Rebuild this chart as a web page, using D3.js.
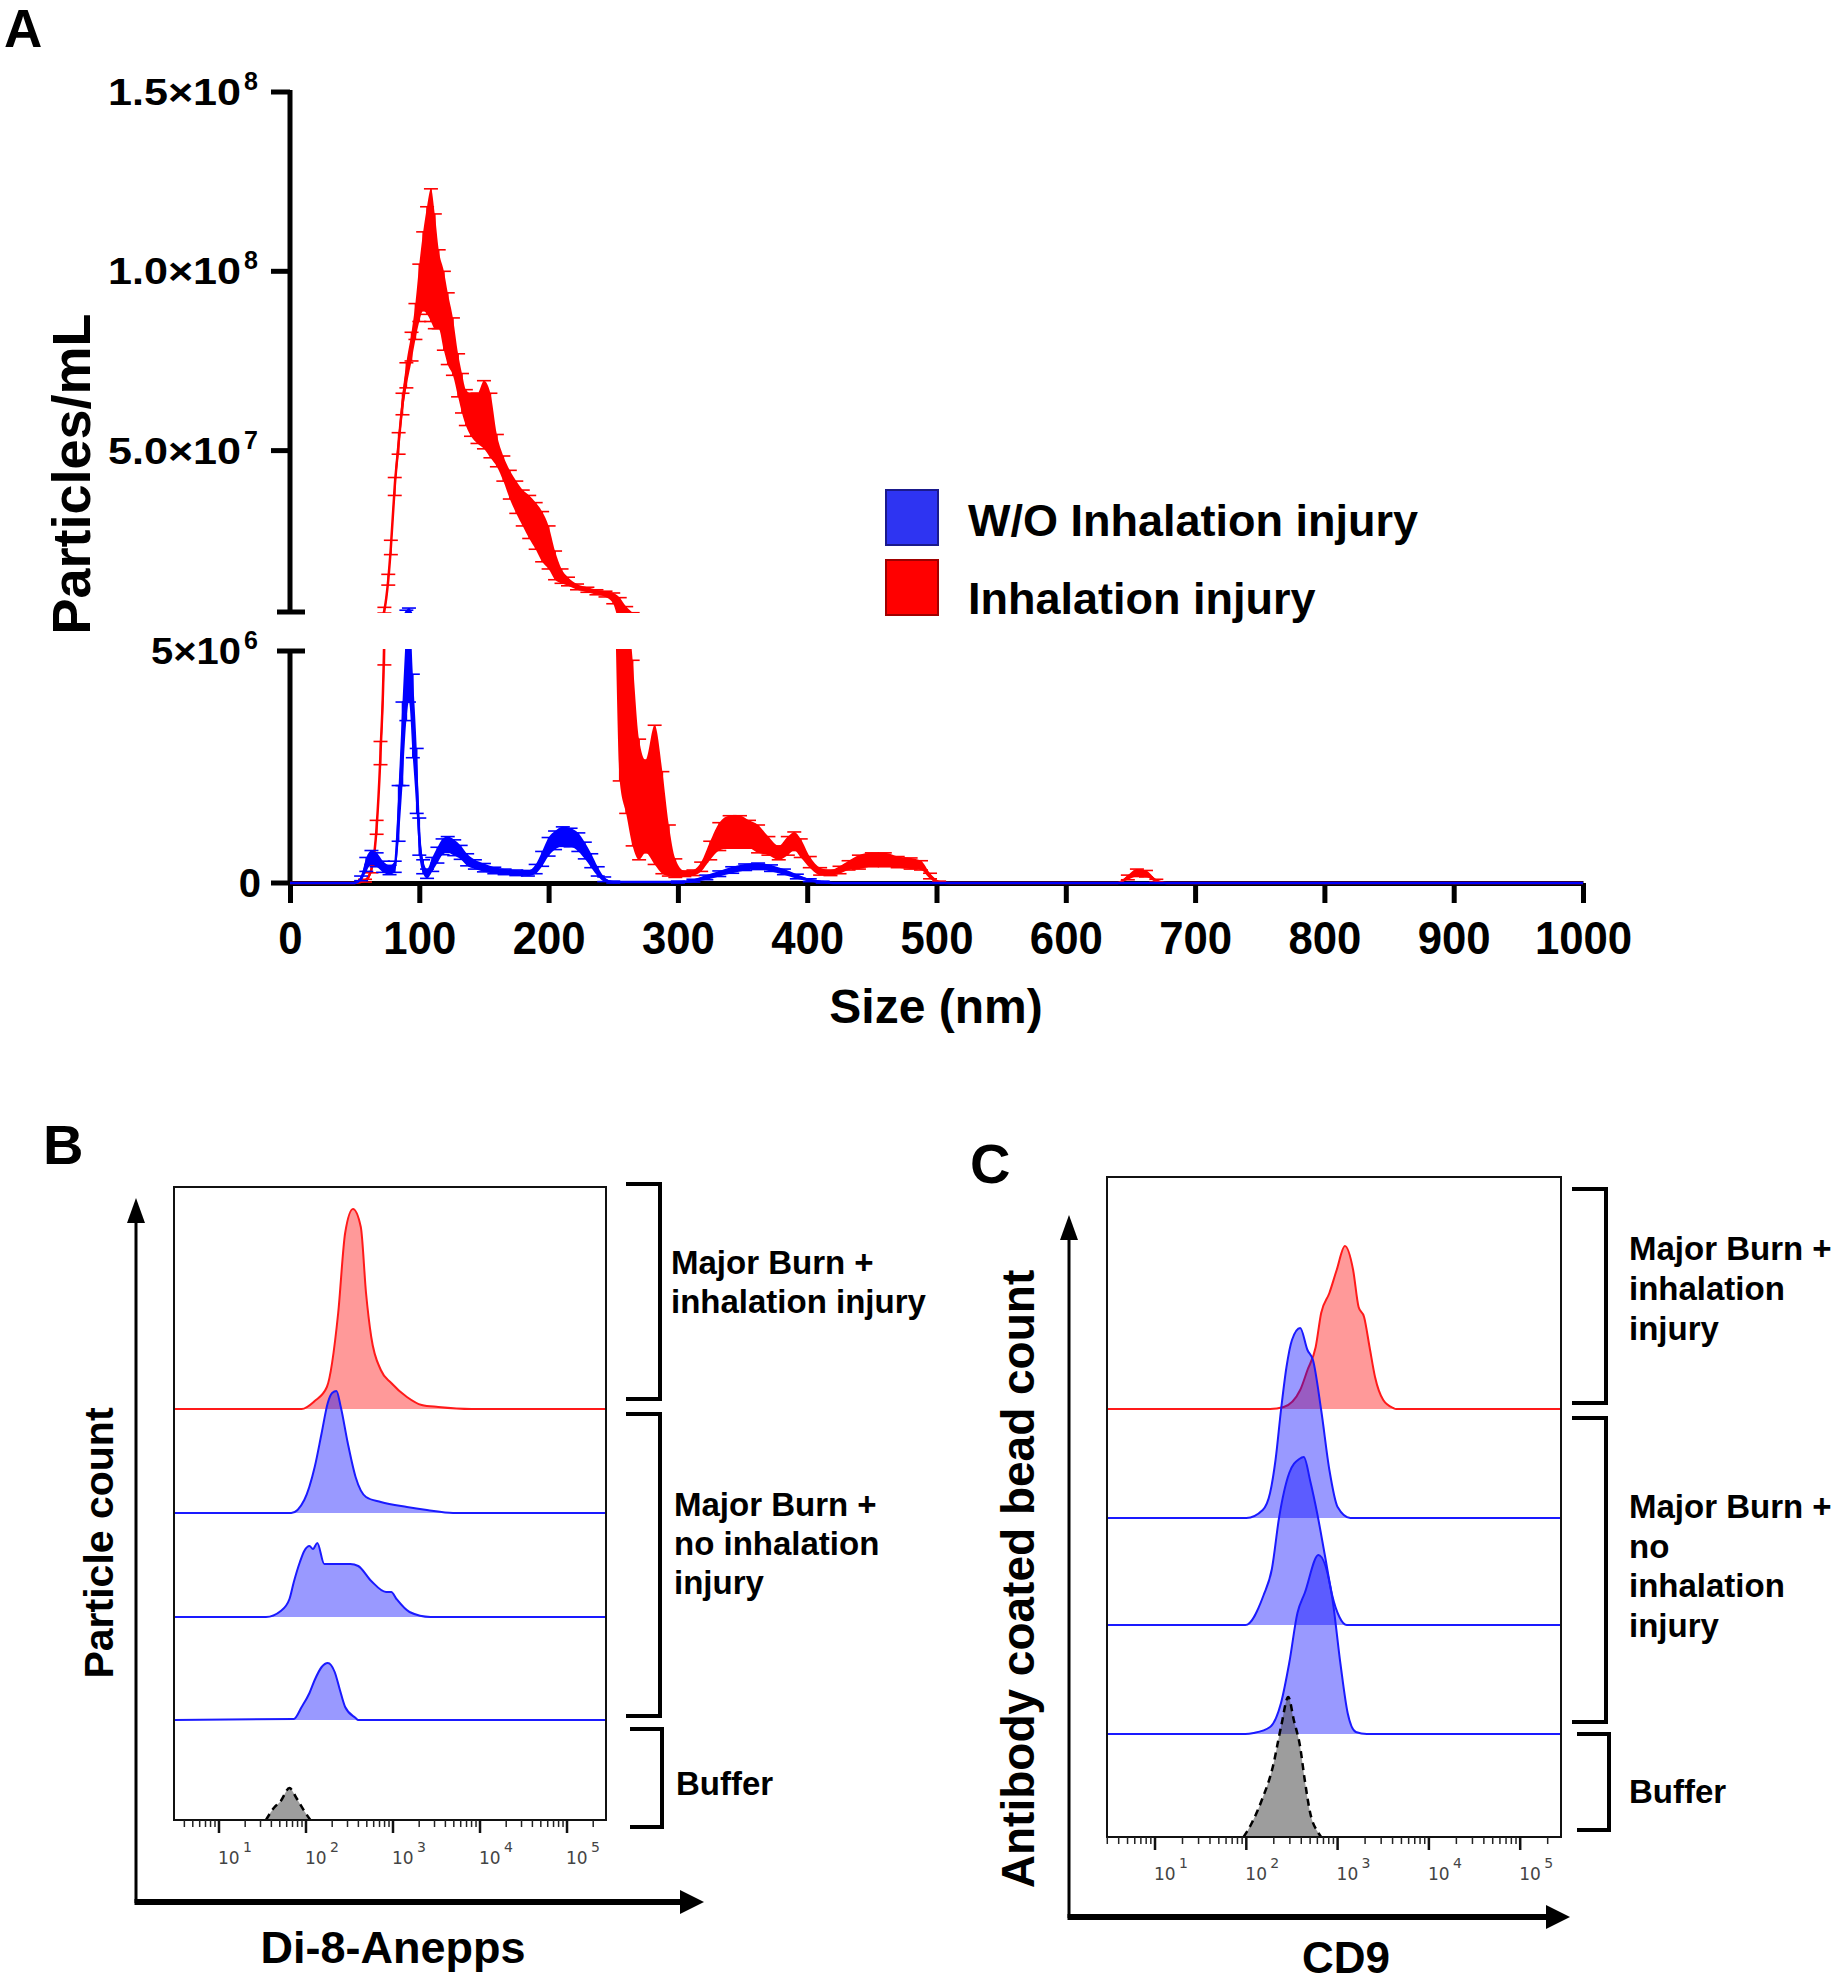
<!DOCTYPE html>
<html>
<head>
<meta charset="utf-8">
<script src="https://cdn.jsdelivr.net/npm/d3@7"></script>
<style>
  body { margin: 0; background: #fff; }
  svg text { font-family: "Liberation Sans", Arial, sans-serif; }
</style>
</head>
<body>
<svg id="fig" width="1835" height="1981"></svg>
<script>
// ---------- Panel A: NTA size distribution (values in 10^6 particles/mL) ----------
const sizeInh = [0, 50, 58, 63, 67, 70, 73, 76, 78, 81,
  84, 87, 90, 94, 97, 100, 103, 106, 109, 112,
  115, 119, 122, 126, 130, 133, 136, 140, 145, 150,
  155, 160, 165, 170, 175, 180, 185, 190, 195, 200,
  205, 210, 215, 222, 230, 237, 244, 250, 255, 260,
  265, 270, 275, 282, 288, 293, 298, 305, 312, 318,
  325, 332, 340, 348, 355, 362, 370, 378, 385, 390,
  395, 402, 410, 418, 425, 432, 440, 450, 460, 470,
  480, 488, 495, 502, 510, 640, 648, 655, 662, 670,
  678, 1000];
const meanInh = [0, 0, 0.05, 0.3, 1.2, 2.8, 5.5, 14, 23, 40,
  52, 63, 71, 79, 86, 94, 100, 103, 104.5, 100,
  95, 89, 84, 79, 71, 66, 62, 60, 59, 60,
  57, 50, 45, 40.5, 37, 34, 31.5, 29, 26, 23,
  18, 15, 13.5, 12, 11.2, 10.5, 10, 8.8, 5.6, 4.0,
  2.8, 1.8, 1.65, 1.9, 1.3, 0.7, 0.32, 0.2, 0.22, 0.35,
  0.7, 1.0, 1.1, 1.1, 1.05, 0.95, 0.8, 0.65, 0.8, 0.9,
  0.75, 0.45, 0.25, 0.22, 0.28, 0.38, 0.45, 0.5, 0.5, 0.45,
  0.42, 0.38, 0.15, 0.02, 0, 0, 0.12, 0.22, 0.2, 0.05,
  0, 0];
const semInh = [0, 0, 0.03, 0.08, 0.15, 0.25, 0.8, 1.5, 2, 2.5,
  3, 3, 3.5, 4, 5, 8, 11, 15, 18.5, 16,
  11, 11, 10, 8, 6, 5.5, 5, 6, 7, 9.5,
  9, 4.5, 3.5, 4, 4.5, 5, 6, 6.5, 7, 6,
  4, 2, 1.2, 0.8, 0.7, 0.7, 0.8, 1.5, 3.4, 2.5,
  2.0, 1.3, 1.0, 1.5, 1.1, 0.55, 0.2, 0.06, 0.06, 0.1,
  0.2, 0.3, 0.35, 0.35, 0.3, 0.3, 0.2, 0.15, 0.2, 0.2,
  0.2, 0.12, 0.08, 0.06, 0.08, 0.1, 0.15, 0.15, 0.15, 0.12,
  0.12, 0.1, 0.06, 0.02, 0, 0, 0.05, 0.08, 0.07, 0.03,
  0, 0];

const sizeWo = [0, 50, 55, 59, 63, 67, 72, 77, 81, 84,
  87, 90, 92, 95, 98, 100, 103, 106, 110, 114,
  118, 122, 127, 132, 137, 143, 150, 158, 166, 175,
  184, 190, 195, 200, 205, 211, 217, 223, 228, 233,
  238, 243, 250, 300, 312, 322, 332, 342, 352, 362,
  372, 382, 392, 402, 412, 420, 1000];
const meanWo = [0, 0, 0.1, 0.4, 0.55, 0.5, 0.35, 0.28, 0.35, 1.5,
  3.0, 4.5, 5.0, 3.6, 2.2, 1.0, 0.35, 0.2, 0.4, 0.6,
  0.78, 0.83, 0.76, 0.66, 0.5, 0.4, 0.33, 0.27, 0.24, 0.22,
  0.21, 0.3, 0.52, 0.78, 0.92, 1.0, 0.98, 0.88, 0.7, 0.48,
  0.25, 0.08, 0.02, 0.02, 0.05, 0.12, 0.2, 0.28, 0.34, 0.36,
  0.32, 0.24, 0.14, 0.06, 0.02, 0, 0];
const semWo = [0, 0, 0.05, 0.15, 0.15, 0.15, 0.12, 0.1, 0.12, 0.6,
  0.9, 1.0, 1.1, 0.9, 0.7, 0.4, 0.15, 0.1, 0.15, 0.17,
  0.17, 0.17, 0.17, 0.15, 0.13, 0.1, 0.09, 0.07, 0.06, 0.06,
  0.06, 0.1, 0.16, 0.2, 0.2, 0.21, 0.2, 0.2, 0.18, 0.15,
  0.1, 0.05, 0.02, 0.02, 0.03, 0.05, 0.06, 0.07, 0.07, 0.07,
  0.07, 0.06, 0.05, 0.03, 0.02, 0, 0];

const xTicksA = [0, 100, 200, 300, 400, 500, 600, 700, 800, 900, 1000];
const yTicksHigh = [5e7, 1e8, 1.5e8];
const yLabelsHigh = [['5.0', '7'], ['1.0', '8'], ['1.5', '8']];
const legendLabels = ['W/O Inhalation injury', 'Inhalation injury'];

// ---------- Panel B: Di-8-Anepps histograms (log10 intensity, count) ----------
const bInhLog = [1.95, 2.10, 2.24, 2.37, 2.45, 2.54, 2.63, 2.69, 2.75, 2.86, 2.98, 3.16, 3.33, 3.52, 3.90];
const bInhCount = [0, 4, 11, 48, 88, 100, 91, 58, 36, 19.5, 13, 6, 2, 1, 0];
const bWo1Log = [1.83, 1.98, 2.10, 2.18, 2.25, 2.30, 2.35, 2.40, 2.48, 2.57, 2.69, 2.86, 3.16, 3.39, 3.69];
const bWo1Count = [0, 6.5, 23, 40, 55, 60, 61, 53, 35, 18, 8, 5.5, 3, 1.5, 0];
const bWo2Log = [1.54, 1.71, 1.81, 1.86, 1.93, 1.98, 2.04, 2.08, 2.13, 2.21, 2.33, 2.51, 2.60, 2.75, 2.92, 2.98, 3.04, 3.19, 3.43];
const bWo2Count = [0, 3, 9, 17.5, 27.5, 33, 35.5, 34, 37, 26.5, 26.5, 26.5, 25.5, 18, 12.5, 12.5, 9, 2.5, 0];
const bWo3Log = [1.86, 1.95, 2.04, 2.10, 2.18, 2.25, 2.33, 2.39, 2.45, 2.57, 2.60];
const bWo3Count = [0.5, 6.5, 13.5, 20, 26.5, 28.5, 24, 15, 6.5, 1, 0];
const bBufLog = [1.54, 1.63, 1.71, 1.81, 1.89, 1.98, 2.05];
const bBufCount = [0, 6, 9.5, 16, 11, 4.5, 0];

// ---------- Panel C: CD9 bead histograms ----------
const cInhLog = [2.26, 2.41, 2.59, 2.67, 2.76, 2.82, 2.91, 2.99, 3.08, 3.17, 3.23, 3.29, 3.35, 3.41, 3.50, 3.61, 3.64];
const cInhCount = [0, 1, 9.5, 19.5, 31, 48, 58, 69.5, 81.5, 69.5, 51, 46, 31, 16, 4.5, 0.5, 0];
const cWo1Log = [2.00, 2.18, 2.26, 2.32, 2.38, 2.44, 2.50, 2.59, 2.67, 2.73, 2.82, 2.91, 3.00, 3.14];
const cWo1Count = [0, 4, 12.5, 29, 54, 75.5, 89, 95, 84, 79, 54, 24, 5.5, 0];
const cWo2Log = [1.99, 2.19, 2.28, 2.36, 2.47, 2.58, 2.63, 2.70, 2.78, 2.86, 2.94, 3.02, 3.10];
const cWo2Count = [0, 15, 28, 54, 76, 83, 84, 72, 55, 35, 15, 4, 0];
const cWo3Log = [1.99, 2.08, 2.26, 2.38, 2.47, 2.56, 2.64, 2.79, 2.94, 3.03, 3.11, 3.20, 3.32];
const cWo3Count = [0, 0.5, 3.5, 15.5, 35.5, 60.5, 70.5, 89.5, 68.5, 35.5, 10.5, 1, 0];
const cBufLog = [1.97, 2.06, 2.17, 2.29, 2.38, 2.46, 2.52, 2.59, 2.64, 2.70, 2.79, 2.82];
const cBufCount = [0, 7, 18.5, 35, 55, 70, 58.5, 45, 28.5, 12, 2, 0];

const decades = [1, 2, 3, 4, 5];

const RED = '#ff0000';
const BLUE = '#0000ff';
const MILLION = 1e6;

const svg = d3.select('#fig');
const defs = svg.append('defs');

// ================= Panel A =================
const A = svg.append('g');
const x = d3.scaleLinear().domain([0, 1000]).range([290, 1583]);
const yLow = d3.scaleLinear().domain([0, 5e6]).range([883, 651]);
const yHigh = d3.scaleLinear().domain([5e6, 1.5e8]).range([612, 92]);

defs.append('clipPath').attr('id', 'clipLow')
  .append('rect').attr('x', 285).attr('y', 649).attr('width', 1320).attr('height', 238);
defs.append('clipPath').attr('id', 'clipHigh')
  .append('rect').attr('x', 285).attr('y', 60).attr('width', 1320).attr('height', 553);

// x axis
const xAxis = A.append('g')
  .attr('transform', `translate(0,${yLow(0)})`)
  .call(d3.axisBottom(x).tickValues(xTicksA).tickFormat(d3.format('d')).tickSize(20).tickSizeOuter(0));
xAxis.select('.domain').attr('stroke', '#000').attr('stroke-width', 5);
xAxis.selectAll('.tick line').attr('stroke', '#000').attr('stroke-width', 5);
xAxis.selectAll('.tick text')
  .attr('y', 71).attr('dy', null)
  .attr('transform', 'scale(0.93,1)')
  .style('font-size', '47px').style('font-weight', 'bold').attr('fill', '#000');

// y axis segments
A.append('line').attr('x1', 290).attr('x2', 290).attr('y1', yLow(5e6)).attr('y2', yLow(0) + 2)
  .attr('stroke', '#000').attr('stroke-width', 5);
A.append('line').attr('x1', 290).attr('x2', 290).attr('y1', yHigh(1.5e8) - 2).attr('y2', yHigh(5e6))
  .attr('stroke', '#000').attr('stroke-width', 5);
// left ticks
yTicksHigh.forEach(v => {
  A.append('line').attr('x1', 271).attr('x2', 290).attr('y1', yHigh(v)).attr('y2', yHigh(v))
    .attr('stroke', '#000').attr('stroke-width', 5);
});
A.append('line').attr('x1', 271).attr('x2', 290).attr('y1', yLow(0)).attr('y2', yLow(0))
  .attr('stroke', '#000').attr('stroke-width', 5);
// break ticks (both sides)
[yHigh(5e6), yLow(5e6)].forEach(yy => {
  A.append('line').attr('x1', 277).attr('x2', 305).attr('y1', yy).attr('y2', yy)
    .attr('stroke', '#000').attr('stroke-width', 5);
});

// y tick labels (mantissa x 10^exp)
function sciLabel(yy, mant, exp, len) {
  A.append('text').attr('x', 241).attr('y', yy + 13)
    .attr('text-anchor', 'end')
    .attr('textLength', len).attr('lengthAdjust', 'spacingAndGlyphs')
    .style('font-size', '36px').style('font-weight', 'bold')
    .text(mant + '×10');
  A.append('text').attr('x', 244).attr('y', yy - 2)
    .style('font-size', '25px').style('font-weight', 'bold')
    .text(exp);
}
yTicksHigh.forEach((v, i) => sciLabel(yHigh(v), yLabelsHigh[i][0], yLabelsHigh[i][1], 133));
sciLabel(yLow(5e6), '5', '6', 90);
A.append('text').attr('x', 261).attr('y', yLow(0) + 14).attr('text-anchor', 'end')
  .style('font-size', '40px').style('font-weight', 'bold').text('0');

// series with error bars, drawn in both axis segments
function drawSeries(sizes, means, sems, color) {
  const pts = sizes.map((s, i) => ({ s, m: means[i] * MILLION, e: sems[i] * MILLION }));
  [[yLow, 'clipLow'], [yHigh, 'clipHigh']].forEach(([y, clip]) => {
    const g = A.append('g').attr('clip-path', `url(#${clip})`);
    g.append('path').datum(pts)
      .attr('d', d3.area()
        .x(d => x(d.s))
        .y0(d => y(Math.max(0, d.m - d.e)))
        .y1(d => y(d.m + d.e))
        .curve(d3.curveMonotoneX))
      .attr('fill', color);
    const bars = g.selectAll(null).data(pts.filter(d => d.e > 0)).enter().append('g')
      .attr('stroke', color).attr('stroke-width', 1.6);
    bars.append('line')
      .attr('x1', d => x(d.s)).attr('x2', d => x(d.s))
      .attr('y1', d => y(Math.max(0, d.m - d.e))).attr('y2', d => y(d.m + d.e));
    bars.append('line')
      .attr('x1', d => x(d.s) - 7).attr('x2', d => x(d.s) + 7)
      .attr('y1', d => y(d.m + d.e)).attr('y2', d => y(d.m + d.e));
    bars.append('line')
      .attr('x1', d => x(d.s) - 7).attr('x2', d => x(d.s) + 7)
      .attr('y1', d => y(Math.max(0, d.m - d.e))).attr('y2', d => y(Math.max(0, d.m - d.e)));
    g.append('path').datum(pts)
      .attr('d', d3.line().x(d => x(d.s)).y(d => y(d.m)).curve(d3.curveMonotoneX))
      .attr('fill', 'none').attr('stroke', color).attr('stroke-width', 2.5);
  });
}
drawSeries(sizeInh, meanInh, semInh, RED);
drawSeries(sizeWo, meanWo, semWo, BLUE);

// axis titles
A.append('text').attr('transform', 'translate(90,474) rotate(-90)')
  .attr('text-anchor', 'middle')
  .style('font-size', '54px').style('font-weight', 'bold').text('Particles/mL');
A.append('text').attr('x', 936).attr('y', 1023).attr('text-anchor', 'middle')
  .style('font-size', '48px').style('font-weight', 'bold').text('Size (nm)');

// legend
const legend = A.append('g');
[[BLUE, '#1a1a8c', '#2e34f2'], [RED, '#a00000', '#ff0000']].forEach((c, i) => {
  legend.append('rect').attr('x', 886).attr('y', 490 + i * 70).attr('width', 52).attr('height', 55)
    .attr('fill', c[2]).attr('stroke', c[1]).attr('stroke-width', 2);
  legend.append('text').attr('x', 968).attr('y', 536 + i * 78)
    .style('font-size', '45px').style('font-weight', 'bold').text(legendLabels[i]);
});

// panel letters
svg.append('text').attr('x', 4).attr('y', 47).style('font-size', '53px').style('font-weight', 'bold').text('A');
svg.append('text').attr('x', 43).attr('y', 1164).style('font-size', '56px').style('font-weight', 'bold').text('B');
svg.append('text').attr('x', 970).attr('y', 1183).style('font-size', '56px').style('font-weight', 'bold').text('C');

// ================= Panels B and C =================
function drawFlowPanel(cfg) {
  const g = svg.append('g');
  const dom = [10 ** cfg.logMin, 10 ** cfg.logMax];
  const xs = d3.scaleLog().domain(dom).range([cfg.x0, cfg.x1]);
  const h = d3.scaleLinear().domain([0, 100]).range([0, 200]);

  cfg.rows.forEach(row => {
    let pts = row.log.map((l, i) => ({ v: 10 ** l, c: row.count[i] }));
    if (row.baseline) pts = [{ v: dom[0], c: 0 }, ...pts, { v: dom[1], c: 0 }];
    g.append('path').datum(pts)
      .attr('d', d3.area().x(d => xs(d.v)).y0(row.base).y1(d => row.base - h(d.c)).curve(d3.curveMonotoneX))
      .attr('fill', row.fill).attr('fill-opacity', row.opacity);
    g.append('path').datum(pts)
      .attr('d', d3.line().x(d => xs(d.v)).y(d => row.base - h(d.c)).curve(d3.curveMonotoneX))
      .attr('fill', 'none').attr('stroke', row.stroke).attr('stroke-width', row.width)
      .attr('stroke-dasharray', row.dash || null);
  });

  g.append('rect').attr('x', cfg.x0).attr('y', cfg.y0)
    .attr('width', cfg.x1 - cfg.x0).attr('height', cfg.y1 - cfg.y0)
    .attr('fill', 'none').attr('stroke', '#111').attr('stroke-width', 2);

  // log ticks
  const minors = [];
  for (let k = 0; k <= 5; k++) {
    for (let m = 2; m <= 9; m++) {
      const v = m * 10 ** k;
      if (v >= dom[0] && v <= dom[1]) minors.push(v);
    }
  }
  g.selectAll(null).data(minors).enter().append('line')
    .attr('x1', d => xs(d)).attr('x2', d => xs(d))
    .attr('y1', cfg.y1).attr('y2', cfg.y1 + 7)
    .attr('stroke', '#222').attr('stroke-width', 1.5);
  const maj = g.selectAll(null).data(decades).enter().append('g')
    .attr('transform', d => `translate(${xs(10 ** d)},${cfg.y1})`);
  maj.append('line').attr('y2', 13).attr('stroke', '#111').attr('stroke-width', 2.5);
  maj.append('text').attr('x', -1).attr('y', cfg.tickBase - cfg.y1)
    .style('font-family', '"DejaVu Sans", sans-serif').style('font-size', '17px').attr('fill', '#444')
    .text('10');
  maj.append('text').attr('x', 24).attr('y', cfg.tickBase - cfg.y1 - 12)
    .style('font-family', '"DejaVu Sans", sans-serif').style('font-size', '14px').attr('fill', '#444')
    .text(d => d);

  // brackets and group labels
  cfg.brackets.forEach(b => {
    g.append('path')
      .attr('d', `M${b.xl},${b.top}H${b.x}V${b.bot}H${b.xl}`)
      .attr('fill', 'none').attr('stroke', '#000').attr('stroke-width', 4);
    b.lines.forEach((t, i) => {
      g.append('text').attr('x', b.tx).attr('y', b.ty[i])
        .style('font-size', '33px').style('font-weight', 'bold').text(t);
    });
  });

  // arrows
  const ax = cfg.arrow;
  g.append('line').attr('x1', ax.x).attr('x2', ax.x).attr('y1', ax.y + 1).attr('y2', ax.topTip + 20)
    .attr('stroke', '#000').attr('stroke-width', 3);
  g.append('path').attr('d', `M${ax.x},${ax.topTip}L${ax.x - 9},${ax.topTip + 25}L${ax.x + 9},${ax.topTip + 25}Z`)
    .attr('fill', '#000');
  g.append('line').attr('x1', ax.x - 1.5).attr('x2', ax.rightTip - 20).attr('y1', ax.y).attr('y2', ax.y)
    .attr('stroke', '#000').attr('stroke-width', 6);
  g.append('path').attr('d', `M${ax.rightTip},${ax.y}L${ax.rightTip - 24},${ax.y - 12}L${ax.rightTip - 24},${ax.y + 12}Z`)
    .attr('fill', '#000');

  g.append('text').attr('transform', `translate(${cfg.yTitle.x},${cfg.yTitle.y}) rotate(-90)`)
    .attr('text-anchor', 'middle')
    .style('font-size', cfg.yTitle.size + 'px').style('font-weight', 'bold').text(cfg.yTitle.text);
  g.append('text').attr('x', cfg.xTitle.x).attr('y', cfg.xTitle.y).attr('text-anchor', 'middle')
    .style('font-size', cfg.xTitle.size + 'px').style('font-weight', 'bold').text(cfg.xTitle.text);
}

function rowsFor(data, bases) {
  const styles = [
    { fill: RED, opacity: 0.4, stroke: '#ff1a1a', width: 2, baseline: true },
    { fill: BLUE, opacity: 0.4, stroke: '#1a1aff', width: 2, baseline: true },
    { fill: BLUE, opacity: 0.4, stroke: '#1a1aff', width: 2, baseline: true },
    { fill: BLUE, opacity: 0.4, stroke: '#1a1aff', width: 2, baseline: true },
    { fill: '#4d4d4d', opacity: 0.55, stroke: '#000', width: 2.5, dash: '7,5', baseline: false }
  ];
  return data.map((d, i) => Object.assign({ log: d[0], count: d[1], base: bases[i] }, styles[i]));
}

drawFlowPanel({
  x0: 174, x1: 606, y0: 1187, y1: 1820, logMin: 0.483, logMax: 5.448, tickBase: 1864,
  rows: rowsFor([[bInhLog, bInhCount], [bWo1Log, bWo1Count], [bWo2Log, bWo2Count],
    [bWo3Log, bWo3Count], [bBufLog, bBufCount]], [1409, 1513, 1617, 1720, 1820]),
  brackets: [
    { x: 660, xl: 626, top: 1184, bot: 1399, tx: 671, ty: [1274, 1313], lines: ['Major Burn +', 'inhalation injury'] },
    { x: 660, xl: 626, top: 1414, bot: 1716, tx: 674, ty: [1516, 1555, 1594], lines: ['Major Burn +', 'no inhalation', 'injury'] },
    { x: 662, xl: 630, top: 1729, bot: 1827, tx: 676, ty: [1795], lines: ['Buffer'] }
  ],
  arrow: { x: 136, y: 1902, topTip: 1198, rightTip: 704 },
  yTitle: { x: 113, y: 1543, size: 41, text: 'Particle count' },
  xTitle: { x: 393, y: 1963, size: 45, text: 'Di-8-Anepps' }
});

drawFlowPanel({
  x0: 1107, x1: 1561, y0: 1177, y1: 1837, logMin: 0.474, logMax: 5.447, tickBase: 1880,
  rows: rowsFor([[cInhLog, cInhCount], [cWo1Log, cWo1Count], [cWo2Log, cWo2Count],
    [cWo3Log, cWo3Count], [cBufLog, cBufCount]], [1409, 1518, 1625, 1734, 1837]),
  brackets: [
    { x: 1606, xl: 1572, top: 1189, bot: 1403, tx: 1629, ty: [1260, 1300, 1340], lines: ['Major Burn +', 'inhalation', 'injury'] },
    { x: 1606, xl: 1572, top: 1418, bot: 1722, tx: 1629, ty: [1518, 1558, 1597, 1637], lines: ['Major Burn +', 'no', 'inhalation', 'injury'] },
    { x: 1609, xl: 1577, top: 1734, bot: 1830, tx: 1629, ty: [1803], lines: ['Buffer'] }
  ],
  arrow: { x: 1069, y: 1917, topTip: 1215, rightTip: 1570 },
  yTitle: { x: 1034, y: 1579, size: 46, text: 'Antibody coated bead count' },
  xTitle: { x: 1346, y: 1973, size: 44, text: 'CD9' }
});
</script>
</body>
</html>
